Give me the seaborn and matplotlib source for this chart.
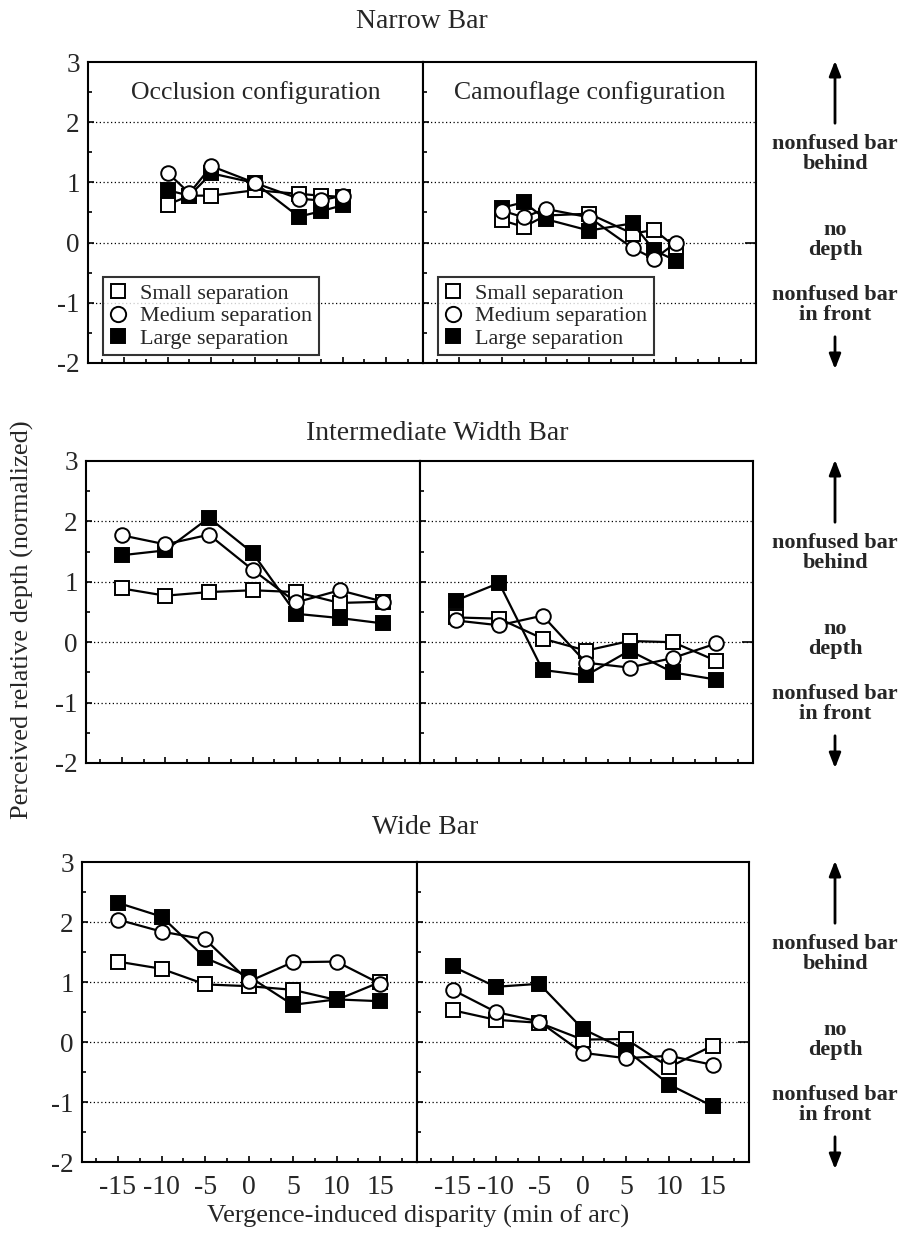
import numpy as np
import pandas as pd
import matplotlib
matplotlib.use("Agg")
import matplotlib.pyplot as plt
import seaborn as sns
from matplotlib.lines import Line2D
from matplotlib.patches import FancyArrowPatch
from matplotlib.ticker import MultipleLocator

# disparity values (min of arc)
x_narrow = [-10, -7.5, -5, 0, 5, 7.5, 10]
x_wide = [-15, -10, -5, 0, 5, 10, 15]

# Narrow bar
narrow_occ_small = [0.63, 0.78, 0.78, 0.87, 0.81, 0.78, 0.76]
narrow_occ_medium = [1.16, 0.82, 1.27, 0.99, 0.73, 0.70, 0.78]
narrow_occ_large = [0.87, 0.78, 1.15, 0.99, 0.43, 0.52, 0.62]
narrow_cam_small = [0.37, 0.26, 0.45, 0.48, 0.15, 0.21, -0.08]
narrow_cam_medium = [0.53, 0.42, 0.56, 0.42, -0.09, -0.27, 0.00]
narrow_cam_large = [0.58, 0.67, 0.39, 0.20, 0.32, -0.13, -0.30]

# Intermediate width bar
inter_occ_small = [0.89, 0.77, 0.83, 0.86, 0.83, 0.65, 0.67]
inter_occ_medium = [1.77, 1.62, 1.78, 1.20, 0.66, 0.86, 0.67]
inter_occ_large = [1.44, 1.52, 2.06, 1.48, 0.47, 0.40, 0.31]
inter_cam_small = [0.41, 0.39, 0.06, -0.14, 0.02, 0.00, -0.31]
inter_cam_medium = [0.36, 0.28, 0.44, -0.34, -0.42, -0.26, -0.02]
inter_cam_large = [0.69, 0.98, -0.46, -0.55, -0.14, -0.50, -0.62]

# Wide bar
wide_occ_small = [1.34, 1.22, 0.96, 0.93, 0.87, 0.70, 1.00]
wide_occ_medium = [2.04, 1.84, 1.71, 1.01, 1.33, 1.34, 0.97]
wide_occ_large = [2.32, 2.09, 1.40, 1.09, 0.62, 0.71, 0.68]
wide_cam_small = [0.53, 0.37, 0.32, 0.04, 0.05, -0.42, -0.06]
wide_cam_medium = [0.87, 0.50, 0.34, -0.18, -0.27, -0.23, -0.38]
wide_cam_large = [1.26, 0.92, 0.97, 0.22, -0.13, -0.71, -1.07]

row_titles = ["Narrow Bar", "Intermediate Width Bar", "Wide Bar"]
x_ticklabels = ["-15", "-10", "-5", "0", "5", "10", "15"]

sns.set_style("white")
plt.rcParams["font.family"] = ["Liberation Serif", "DejaVu Serif"]
plt.rcParams["axes.unicode_minus"] = False

W, H = 903, 1239
fig = plt.figure(figsize=(W / 100, H / 100), dpi=100)


def box(l, t, r, b):
    # pixel box (from top-left) -> figure fraction
    return [l / W, 1 - b / H, (r - l) / W, (b - t) / H]


def fx(px):
    return px / W


def fy(py):
    return 1 - py / H


def draw_panel(ax, xs, small, medium, large, left, bottom_row):
    series = [
        (small, "s", "white", 10),
        (large, "s", "black", 10),
        (medium, "o", "white", 10.5),
    ]
    for ys, mk, fc, ms in series:
        df = pd.DataFrame({"x": xs, "y": ys})
        sns.lineplot(data=df, x="x", y="y", ax=ax, color="black", lw=1.6,
                     marker=mk, markersize=ms, markerfacecolor=fc,
                     markeredgecolor="black", markeredgewidth=1.4,
                     legend=False, zorder=3)
    ax.set_xlim(-19.1, 19.2)
    ax.set_ylim(-2, 3)
    for v in [-1, 0, 1, 2]:
        ax.axhline(v, color="black", lw=0.9, ls=(0, (1, 2)), zorder=1)
    ax.xaxis.set_major_locator(MultipleLocator(5))
    ax.xaxis.set_minor_locator(MultipleLocator(2.5))
    ax.yaxis.set_major_locator(MultipleLocator(1))
    ax.yaxis.set_minor_locator(MultipleLocator(0.5))
    ax.tick_params(which="both", direction="in", top=False, right=False,
                   left=True, bottom=True, width=1.2, color="black")
    ax.tick_params(which="major", length=4)
    ax.tick_params(which="minor", length=3)
    ax.tick_params(axis="y", labelleft=left, labelsize=19.5, pad=6)
    ax.tick_params(axis="x", labelbottom=bottom_row, labelsize=20, pad=9)
    if bottom_row:
        ax.set_xticks([-15, -10, -5, 0, 5, 10, 15])
        ax.set_xticklabels(x_ticklabels)
    ax.set_xlabel("")
    ax.set_ylabel("")
    for s in ax.spines.values():
        s.set_linewidth(1.5)
        s.set_color("black")
    if not left:
        # short inward tick at zero on the outer right edge
        tw = ax.twinx()
        tw.set_ylim(-2, 3)
        tw.set_yticks([0])
        tw.tick_params(axis="y", direction="in", length=8, width=1.2,
                       labelright=False, color="black")
        tw.grid(False)
        for s in tw.spines.values():
            s.set_visible(False)


def add_legend(ax):
    handles = [
        Line2D([], [], ls="none", marker="s", ms=10.5, mfc="white", mec="black", mew=1.4),
        Line2D([], [], ls="none", marker="o", ms=11, mfc="white", mec="black", mew=1.4),
        Line2D([], [], ls="none", marker="s", ms=10.5, mfc="black", mec="black", mew=1.4),
    ]
    labels = ["Small separation", "Medium separation", "Large separation"]
    leg = ax.legend(handles, labels, loc="lower left", bbox_to_anchor=(0.045, 0.027),
                    borderaxespad=0, frameon=True, fancybox=False, fontsize=16,
                    handlelength=0.8, handletextpad=0.6, labelspacing=0.08,
                    borderpad=0.28)
    leg.get_frame().set_edgecolor("black")
    leg.get_frame().set_linewidth(1.5)
    leg.set_zorder(5)


rows = [
    (x_narrow, (88, 62, 423, 363), (423, 62, 756, 363),
     (narrow_occ_small, narrow_occ_medium, narrow_occ_large),
     (narrow_cam_small, narrow_cam_medium, narrow_cam_large), (422, 22)),
    (x_wide, (86, 461, 420, 763), (420, 461, 753, 763),
     (inter_occ_small, inter_occ_medium, inter_occ_large),
     (inter_cam_small, inter_cam_medium, inter_cam_large), (437, 433)),
    (x_wide, (82, 862, 417, 1162), (417, 862, 749, 1162),
     (wide_occ_small, wide_occ_medium, wide_occ_large),
     (wide_cam_small, wide_cam_medium, wide_cam_large), (425, 828)),
]

for i, (xs, lb, rb, occ, cam, tpos) in enumerate(rows):
    bottom_row = i == 2
    axl = fig.add_axes(box(*lb))
    axr = fig.add_axes(box(*rb))
    draw_panel(axl, xs, *occ, left=True, bottom_row=bottom_row)
    draw_panel(axr, xs, *cam, left=False, bottom_row=bottom_row)
    fig.text(fx(tpos[0]), fy(tpos[1]), row_titles[i], ha="center", va="center", fontsize=20)
    if i == 0:
        axl.text(0.5, 0.9, "Occlusion configuration", transform=axl.transAxes,
                 ha="center", va="center", fontsize=18.5)
        axr.text(0.5, 0.9, "Camouflage configuration", transform=axr.transAxes,
                 ha="center", va="center", fontsize=18.5)
        add_legend(axl)
        add_legend(axr)

    # side annotations
    top = lb[1]
    cx = 835
    fig.text(fx(cx), fy(top + 92), "nonfused bar\nbehind", ha="center", va="center",
             fontsize=16, fontweight="bold", linespacing=1.0)
    fig.text(fx(cx), fy(top + 178), "no\ndepth", ha="center", va="center",
             fontsize=16, fontweight="bold", linespacing=1.0)
    fig.text(fx(cx), fy(top + 243), "nonfused bar\nin front", ha="center", va="center",
             fontsize=16, fontweight="bold", linespacing=1.0)
    fig.add_artist(FancyArrowPatch(
        (fx(cx), fy(top + 64)), (fx(cx), fy(top - 4)), transform=fig.transFigure,
        arrowstyle="-|>,head_length=9,head_width=3.5", lw=2, color="black"))
    fig.add_artist(FancyArrowPatch(
        (fx(cx), fy(top + 272)), (fx(cx), fy(top + 310)), transform=fig.transFigure,
        arrowstyle="-|>,head_length=9,head_width=3.5", lw=2, color="black"))

fig.text(fx(22), fy(620), "Perceived relative depth (normalized)", rotation=90,
         ha="center", va="center", fontsize=19)
fig.text(fx(418), fy(1216), "Vergence-induced disparity (min of arc)",
         ha="center", va="center", fontsize=19)

fig.savefig("out.png", dpi=100)
